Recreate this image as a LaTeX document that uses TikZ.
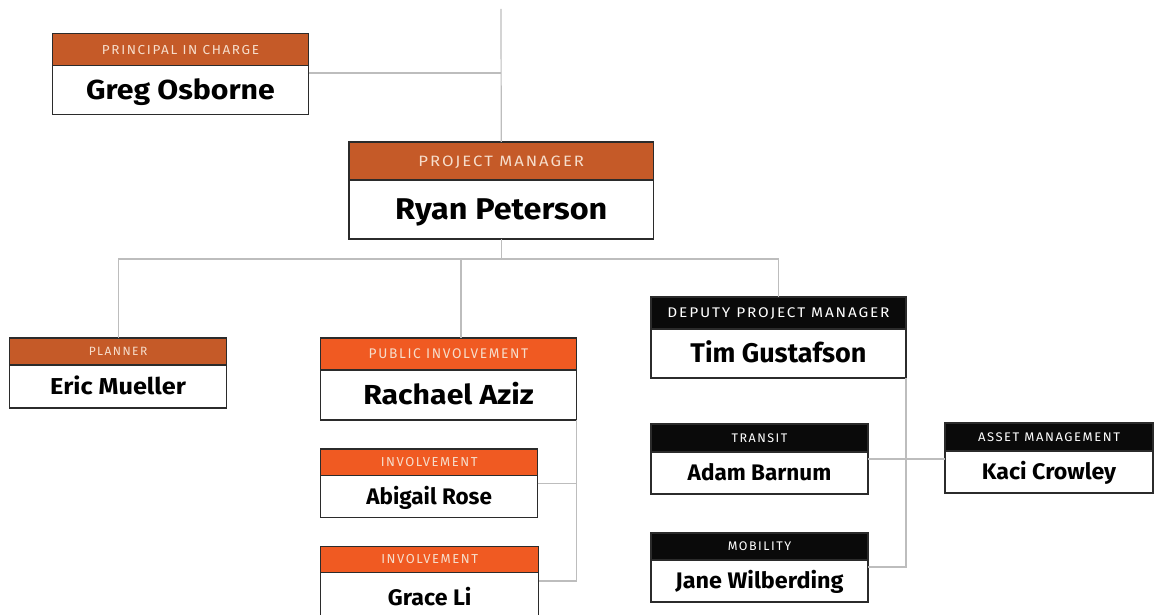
\documentclass[tikz,border=0pt]{standalone}
\usepackage{fontspec}
\usepackage{graphicx}
\setmainfont{Fira Sans}
\newfontfamily\hdrfont[LetterSpace=12]{Fira Sans}
\usetikzlibrary{calc}
\definecolor{burnt}{HTML}{C55A28}
\definecolor{brightor}{HTML}{F05A22}
\definecolor{blk}{HTML}{0A0A0A}
\definecolor{peach}{HTML}{F6DDCB}
\definecolor{edge}{HTML}{2B2B2B}
\definecolor{connc}{HTML}{BDBDBD}
\tikzset{
  boxbase/.style={draw=edge, line width=1.4pt, rectangle, inner sep=0pt, outer sep=0pt, anchor=north west, align=center},
  hdrO/.style={boxbase, fill=burnt, text=peach},
  hdrR/.style={boxbase, fill=brightor, text=peach},
  hdrK/.style={boxbase, fill=blk, text=white},
  bdy/.style={boxbase, fill=white, text=black, font=\bfseries},
  conn/.style={draw=connc, line width=1.2pt},
}
% id, x, y, width, header h, body h, header style, title, name
\newcommand{\orgbox}[9]{%
  \node[#7, minimum width=#4pt, minimum height=#5pt] (#1H) at (#2,#3) {#8};
  \node[bdy, minimum width=#4pt, minimum height=#6pt] (#1) at (#1H.south west) {#9};
}
\newcommand{\hs}[3]{{\hdrfont\fontsize{#1}{#1}\selectfont\rule{0pt}{0.69em}\smash{\scalebox{#2}[1]{#3}}}}
\newcommand{\nm}[3]{{\fontsize{#1}{#1}\selectfont\rule{0pt}{0.69em}\smash{\scalebox{#2}[1]{#3}}}}
\begin{document}
\begin{tikzpicture}[x=1pt,y=-1pt]
\useasboundingbox (0,0) rectangle (1154,615);
\coordinate (top) at (501,9);
\coordinate (bus) at (0,259);
\coordinate (rtap) at (461,259);
\orgbox{greg}{52.5}{33.7}{256}{32}{49}{hdrO}{\hs{13}{1.04}{PRINCIPAL IN CHARGE}}{\nm{27.5}{1.1}{Greg Osborne}}
\orgbox{ryan}{349}{142}{304.5}{38}{59}{hdrO}{\hs{15}{1.11}{PROJECT MANAGER}}{\nm{30}{1.08}{Ryan Peterson}}
\orgbox{eric}{9.6}{338}{217}{27}{43}{hdrO}{\hs{12}{1}{PLANNER}}{\nm{23}{1.1}{Eric Mueller}}
\orgbox{rach}{320.7}{338}{255.6}{32}{50}{hdrR}{\hs{14}{0.98}{PUBLIC INVOLVEMENT}}{\nm{27.5}{1.1}{Rachael Aziz}}
\orgbox{abi}{320.7}{449}{217}{26.5}{42}{hdrR}{\hs{13}{1}{INVOLVEMENT}}{\nm{22.5}{1}{Abigail Rose}}
\orgbox{grace}{320.7}{546.5}{218}{26}{50}{hdrR}{\hs{13}{1}{INVOLVEMENT}}{\nm{22.5}{1.03}{Grace Li}}
\orgbox{tim}{651}{297}{255}{32}{49}{hdrK}{\hs{14}{1.1}{DEPUTY PROJECT MANAGER}}{\nm{27}{1}{Tim Gustafson}}
\orgbox{adam}{651}{424}{217}{28}{42}{hdrK}{\hs{12.5}{1}{TRANSIT}}{\nm{22.5}{1}{Adam Barnum}}
\orgbox{kaci}{945}{423}{208}{28}{42}{hdrK}{\hs{12.5}{1.04}{ASSET MANAGEMENT}}{\nm{22.5}{1.03}{Kaci Crowley}}
\orgbox{jane}{651}{533}{217}{27}{42}{hdrK}{\hs{12.5}{1}{MOBILITY}}{\nm{22.5}{1.04}{Jane Wilberding}}
\draw[conn] (top) -- (ryanH.north);
\draw[conn] (greg.east |- 0,73) -- (top |- 0,73);
\draw[conn] (ryan.south) -- (ryan.south |- bus);
\draw[conn] (ericH.north) -- (ericH.north |- bus) -- (timH.north |- bus) -- (timH.north);
\draw[conn] (rtap) -- (rtap |- rachH.north);
\draw[conn] (rach.south east) -- (rach.south east |- 0,581) -- (grace.east |- 0,581);
\draw[conn] (abi.east |- 0,483.5) -- (rach.south east |- 0,483.5);
\draw[conn] (tim.south east) -- (tim.south east |- 0,567) -- (jane.east |- 0,567);
\draw[conn] (adam.east |- 0,459) -- (kaci.west |- 0,459);
\end{tikzpicture}
\end{document}
